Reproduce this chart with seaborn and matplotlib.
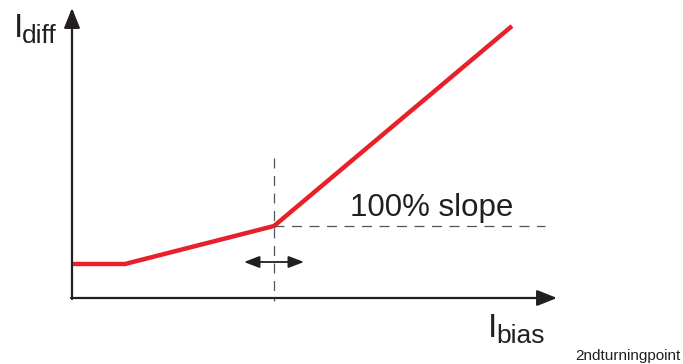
import matplotlib
matplotlib.use("Agg")
import matplotlib.pyplot as plt
import seaborn as sns
import pandas as pd

# Characteristic curve (origin at axes crossing)
i_bias = [0, 53, 202, 440]
i_diff = [34, 34, 72, 272]
knee_bias = 202
knee_diff = 72

sns.set_style("white")
plt.rcParams['font.family'] = ['Liberation Sans', 'DejaVu Sans']

fig = plt.figure(figsize=(6.83, 3.64), dpi=100)
ax = fig.add_axes([0, 0, 1, 1])
ax.set_xlim(-72, 611)
ax.set_ylim(-66, 298)
ax.axis('off')

df = pd.DataFrame({"bias": i_bias, "diff": i_diff})
sns.lineplot(data=df, x="bias", y="diff", color="#e8202a", linewidth=3.2,
             sort=False, ax=ax, solid_joinstyle='miter', solid_capstyle='butt')

axc = "#231f20"
# axes with arrows
big = '-|>,head_length=0.45,head_width=0.18'
ax.annotate("", xy=(0, 290), xytext=(0, -1),
            arrowprops=dict(arrowstyle=big, color=axc, lw=1.6,
                            mutation_scale=27, shrinkA=0, shrinkB=0))
ax.annotate("", xy=(485, 0), xytext=(-1, 0),
            arrowprops=dict(arrowstyle=big, color=axc, lw=1.6,
                            mutation_scale=27, shrinkA=0, shrinkB=0))

# dashed guide lines
dc = "#555555"
ax.plot([knee_bias, knee_bias], [140, -3], color=dc, lw=0.9, dashes=(8, 6))
ax.plot([knee_bias, 473], [knee_diff, knee_diff], color=dc, lw=0.9, dashes=(8, 6))

# double arrow
ax.annotate("", xy=(172, 36), xytext=(232, 36),
            arrowprops=dict(arrowstyle='<|-|>,head_length=0.47,head_width=0.18',
                            color=axc, lw=1.3,
                            mutation_scale=20, shrinkA=0, shrinkB=0))

# texts
tc = "#231f20"
ax.text(278, 82, "100% slope", fontsize=22.5, color=tc, va='baseline', ha='left')
ax.text(-58, 261, "I", fontsize=24, color=tc, va='baseline', ha='left')
ax.text(-50, 255, "diff", fontsize=19, color=tc, va='baseline', ha='left')
ax.text(416, -39, "I", fontsize=24, color=tc, va='baseline', ha='left')
ax.text(424, -45, "bias", fontsize=19, color=tc, va='baseline', ha='left')
ax.text(609, -62, "2ndturningpoint", fontsize=11, color=tc, va='baseline', ha='right')

fig.savefig("out.png", dpi=100)
